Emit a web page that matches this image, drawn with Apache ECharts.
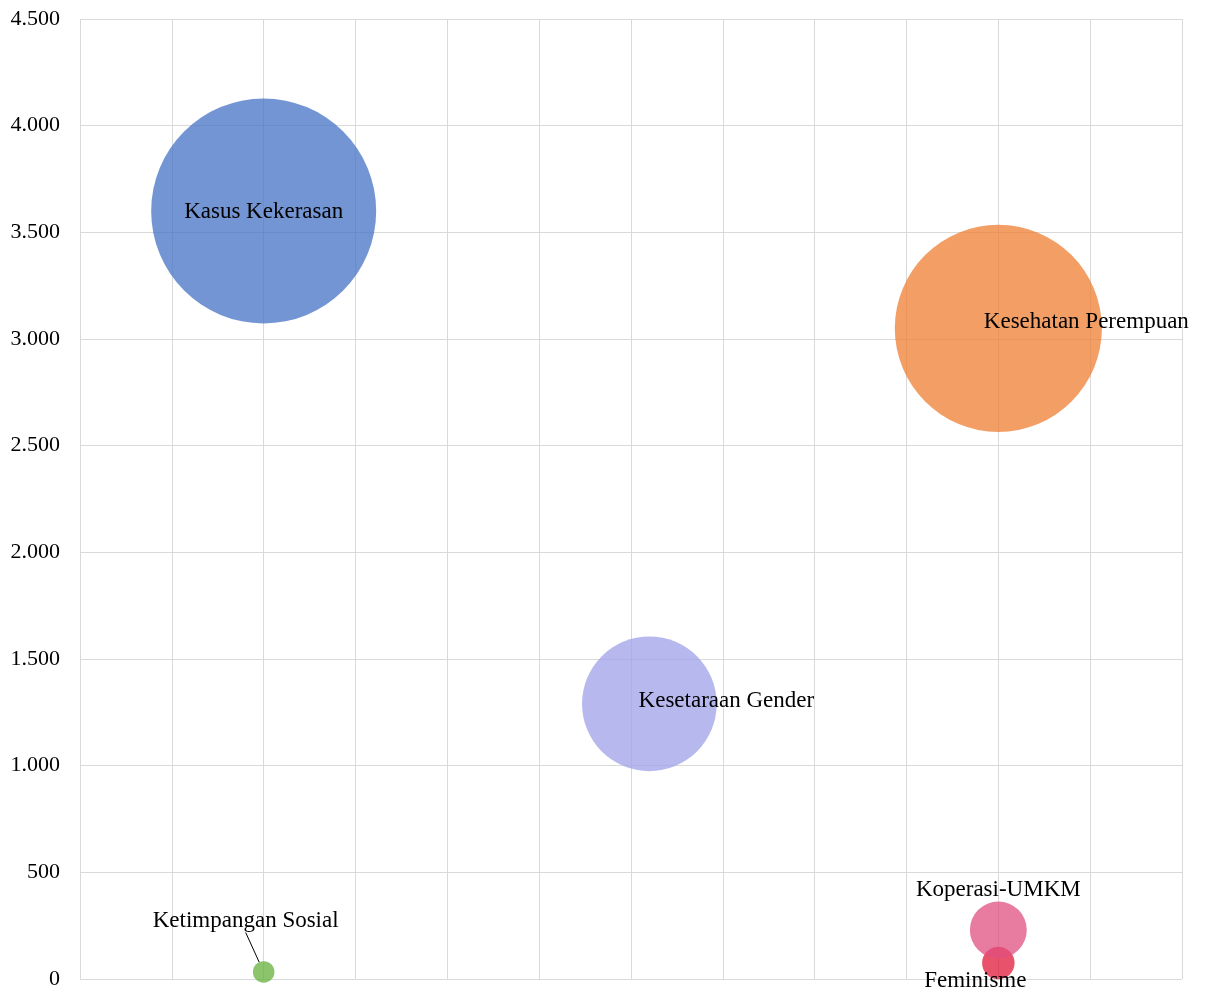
<!DOCTYPE html>
<html>
<head>
<meta charset="utf-8">
<script src="https://cdn.jsdelivr.net/npm/echarts@6/dist/echarts.min.js"></script>
<style>
html,body{margin:0;padding:0;background:#fff;}
#chart{width:1206px;height:990px;}
</style>
</head>
<body>
<div id="chart"></div>
<script>
// Data (draw order: Feminisme under Koperasi-UMKM)
const categories = ['Kasus Kekerasan', 'Kesehatan Perempuan', 'Kesetaraan Gender', 'Ketimpangan Sosial', 'Feminisme', 'Koperasi-UMKM'];
const xValues = [2, 10, 6.2, 2, 10, 10];
const yValues = [3600, 3050, 1290, 33, 75, 230];
const bubbleSizes = [3600, 3050, 1290, 33, 75, 230];
const yTicks = [0, 500, 1000, 1500, 2000, 2500, 3000, 3500, 4000, 4500];

const FONT = "'Palatino Linotype','Book Antiqua',Palatino,'Liberation Serif',serif";

const colorByName = {
  'Kasus Kekerasan': 'rgba(68,114,196,0.75)',
  'Kesehatan Perempuan': 'rgba(237,125,49,0.75)',
  'Kesetaraan Gender': 'rgba(158,160,232,0.75)',
  'Ketimpangan Sosial': 'rgba(102,176,59,0.75)',
  'Feminisme': 'rgba(224,24,56,0.75)',
  'Koperasi-UMKM': 'rgba(224,80,128,0.75)'
};

// label placement per bubble
const labelCfg = {
  'Kasus Kekerasan': { position: 'inside', offset: [0, 1] },
  'Kesehatan Perempuan': { position: 'inside', offset: [88, -6] },
  'Kesetaraan Gender': { position: 'inside', offset: [77, -3] },
  'Ketimpangan Sosial': { position: 'inside', offset: [0, 0] },
  'Feminisme': { position: 'inside', offset: [-23, 18] },
  'Koperasi-UMKM': { position: 'top', distance: 3, offset: [0, 3] }
};

function sizeFn(v) { return 3.75 * Math.sqrt(v); }

const series = categories.map((name, i) => {
  const s = {
    type: 'scatter',
    name: name,
    data: [[xValues[i], yValues[i], bubbleSizes[i]]],
    symbolSize: d => sizeFn(d[2]),
    itemStyle: { color: colorByName[name], opacity: 1 },
    label: Object.assign({
      show: true,
      formatter: name,
      color: '#000',
      fontFamily: FONT,
      fontSize: 23
    }, labelCfg[name]),
    emphasis: { disabled: true },
    silent: true
  };
  if (name === 'Ketimpangan Sosial') {
    s.labelLayout = { dx: -18, dy: -51 };
    s.labelLine = { show: true, lineStyle: { color: '#000', width: 1 } };
  }
  return s;
});

const chart = echarts.init(document.getElementById('chart'), null, { renderer: 'canvas' });
chart.setOption({
  animation: false,
  backgroundColor: '#fff',
  grid: { left: 80, right: 24, top: 19, bottom: 10, containLabel: false },
  xAxis: {
    type: 'value',
    min: 0, max: 12, interval: 1,
    axisLabel: { show: false },
    axisTick: { show: false },
    axisLine: { show: false },
    splitLine: { show: true, lineStyle: { color: '#d9d9d9', width: 1 } }
  },
  yAxis: {
    type: 'value',
    min: yTicks[0], max: yTicks[yTicks.length - 1], interval: 500,
    axisLabel: {
      color: '#000',
      fontFamily: FONT,
      fontSize: 22,
      margin: 20,
      formatter: v => String(v).replace(/\B(?=(\d{3})+(?!\d))/g, '.')
    },
    axisTick: { show: false },
    axisLine: { show: false },
    splitLine: { show: true, lineStyle: { color: '#d9d9d9', width: 1 } }
  },
  series: series
});
</script>
</body>
</html>
